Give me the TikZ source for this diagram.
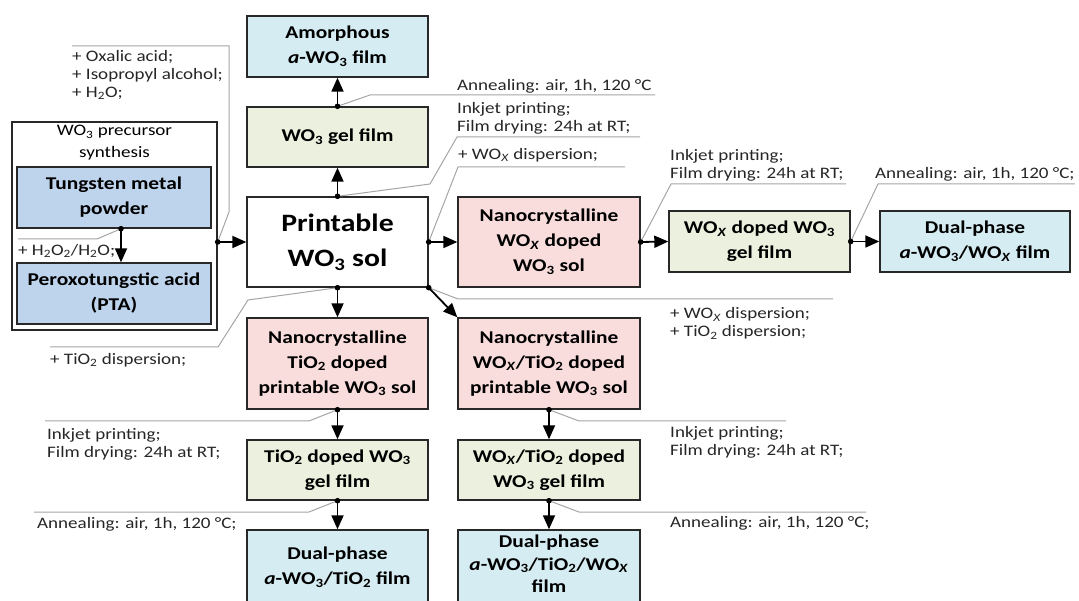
\documentclass[tikz,border=0pt]{standalone}
\usepackage{fontspec}
\setmainfont{Carlito}[FakeStretch=1.19]
\usepackage{xcolor}
\usepackage{tikz}
\usetikzlibrary{arrows.meta, positioning, calc}

\definecolor{filmblue}{RGB}{212,236,242}
\definecolor{gelgreen}{RGB}{235,241,222}
\definecolor{solpink}{RGB}{249,221,220}
\definecolor{precblue}{RGB}{190,212,237}
\definecolor{edge}{RGB}{40,40,40}
\definecolor{leadgray}{RGB}{165,165,165}

\newcommand{\wothree}{WO\textsubscript{3}}
\newcommand{\wox}{WO\textsubscript{\textit{X}}}
\newcommand{\tiotwo}{TiO\textsubscript{2}}
\newcommand{\aphase}{\textit{a}}

\begin{document}
\begin{tikzpicture}[
    x=1pt, y=-1pt,
    box/.style  = {rectangle, draw=edge, line width=1.4pt, align=center,
                   inner sep=0pt, minimum width=181pt, minimum height=60pt,
                   font=\fontsize{18}{25}\selectfont\bfseries},
    film/.style = {box, fill=filmblue},
    gel/.style  = {box, fill=gelgreen},
    sol/.style  = {box, fill=solpink, minimum height=91pt},
    prec/.style = {box, fill=precblue, minimum width=194pt, minimum height=61pt},
    note/.style = {anchor=west, align=left, inner sep=0pt, text=black!85,
                   font=\fontsize{16}{18}\selectfont},
    arr/.style  = {-{Triangle[length=14pt, width=12pt]}, line width=1.8pt},
    lead/.style = {draw=leadgray, line width=1pt},
    tap/.style  = {fill=black}
]
  \useasboundingbox (0,0) rectangle (1079,601);
  \clip (0,0) rectangle (1079,601);

  % precursor synthesis block
  \node[draw=edge, line width=1.4pt, fill=white, minimum width=205pt,
        minimum height=208pt, inner sep=0pt] (outer) at (114.5,226) {};
  \node[font=\fontsize{16}{22}\selectfont, align=center, inner sep=0pt]
        (synth) at (114.5,143) {\wothree{} precursor\\synthesis};
  \node[prec] (tung) at (114,197.5) {Tungsten metal\\powder};
  \node[prec] (pta)  at (114,293.5) {Peroxotungstic acid\\(PTA)};

  % main column
  \node[film, minimum height=61pt] (amorph) at (337.5,46.5) {Amorphous\\\aphase-\wothree{} film};
  \node[gel]  (gel)    at (337.5,137) {\wothree{} gel film};
  \node[box, fill=white, minimum height=90pt,
        font=\fontsize{25}{35}\selectfont\bfseries] (print) at (337.5,242) {Printable\\\wothree{} sol};
  \node[sol]  (tisol)  at (337.5,363.5) {Nanocrystalline\\\tiotwo{} doped\\printable \wothree{} sol};
  \node[gel]  (tigel)  at (337.5,470) {\tiotwo{} doped \wothree\\gel film};
  \node[film, minimum height=75pt] (tifilm) at (337.5,567.5) {Dual-phase\\\aphase-\wothree/\tiotwo{} film};

  % WOx branch
  \node[sol, minimum width=182pt, minimum height=90pt] (woxsol) at (549,242) {Nanocrystalline\\\wox{} doped\\\wothree{} sol};
  \node[gel, minimum height=61pt] (woxgel) at (759.5,241.5) {\wox{} doped \wothree\\gel film};
  \node[film, minimum width=190pt, minimum height=61pt] (woxfilm) at (975,241.5) {Dual-phase\\\aphase-\wothree/\wox{} film};

  % WOx/TiO2 branch
  \node[sol, minimum width=182pt] (wtsol) at (549,363.5) {Nanocrystalline\\\wox/\tiotwo{} doped\\printable \wothree{} sol};
  \node[gel, minimum width=182pt] (wtgel) at (549,470) {\wox/\tiotwo{} doped\\\wothree{} gel film};
  \node[film, minimum width=182pt, minimum height=75pt] (wtfilm) at (549,567.5) {};
  \node[font=\fontsize{18}{22.5}\selectfont\bfseries, align=center, inner sep=0pt]
        (wtfilmtxt) at (549,564) {Dual-phase\\\aphase-\wothree/\tiotwo/\wox\\film};

  % process notes
  \node[note] (oxal)    at (72,75)     {+ Oxalic acid;\\+ Isopropyl alcohol;\\+ H\textsubscript{2}O;};
  \node[note] (pero)    at (18,251)    {+ H\textsubscript{2}O\textsubscript{2}/H\textsubscript{2}O;};
  \node[note] (tidisp)  at (50,360)    {+ \tiotwo{} dispersion;};
  \node[note] (annA)    at (457,86)    {Annealing: air, 1h, 120 °C};
  \node[note] (inkA)    at (457,118.5) {Inkjet printing;\\Film drying: 24h at RT;};
  \node[note] (woxdisp) at (458,155)   {+ \wox{} dispersion;};
  \node[note] (inkB)    at (670,165.5) {Inkjet printing;\\Film drying: 24h at RT;};
  \node[note] (annB)    at (875,174)   {Annealing: air, 1h, 120 °C;};
  \node[note] (mixdisp) at (670,323.5) {+ \wox{} dispersion;\\+ \tiotwo{} dispersion;};
  \node[note] (inkC)    at (47,444)    {Inkjet printing;\\Film drying: 24h at RT;};
  \node[note] (annC)    at (37,524)    {Annealing: air, 1h, 120 °C;};
  \node[note] (inkD)    at (670,442.5) {Inkjet printing;\\Film drying: 24h at RT;};
  \node[note] (annD)    at (670,523)   {Annealing: air, 1h, 120 °C;};

  \coordinate (feed) at (outer.east |- print.west);
  \coordinate (tapT) at ([xshift=7pt]tung.south);
  \coordinate (tapP) at ([xshift=7pt]pta.north);

  % leader lines
  \draw[lead] (72,46) -- (229,46) -- (229,212) -- (feed);
  \draw[lead] (tapT) -- (97,239) -- (18,239);
  \draw[lead] (gel.north) -- (370,95) -- (655,95);
  \draw[lead] (print.north) -- (430,184) -- (457,137) -- (640,137);
  \draw[lead] (print.east) -- (458,167) -- (625,167);
  \draw[lead] (print.south) -- (248,300) -- (218,347) -- (50,347);
  \draw[lead] (print.south east) -- (458,299) -- (833,299);
  \draw[lead] (woxsol.east) -- (671,184) -- (846,184);
  \draw[lead] (woxgel.east) -- (878,184) -- (1075,184);
  \draw[lead] (tisol.south) -- (309,421) -- (45,421);
  \draw[lead] (tigel.south) -- (309,512) -- (34,512);
  \draw[lead] (wtsol.south) -- (579,421) -- (786,421);
  \draw[lead] (wtgel.south) -- (579,512) -- (866,512);

  % process arrows
  \draw[arr] (gel.north)        -- (amorph.south);
  \draw[arr] (print.north)      -- (gel.south);
  \draw[arr] (feed)             -- (print.west);
  \draw[arr] (tapT)             -- (tapP);
  \draw[arr] (print.south)      -- (tisol.north);
  \draw[arr] (print.east)       -- (woxsol.west);
  \draw[arr] (print.south east) -- (wtsol.north west);
  \draw[arr] (woxsol.east)      -- (woxgel.west);
  \draw[arr] (woxgel.east)      -- (woxfilm.west);
  \draw[arr] (tisol.south)      -- (tigel.north);
  \draw[arr] (tigel.south)      -- (tifilm.north);
  \draw[arr] (wtsol.south)      -- (wtgel.north);
  \draw[arr] (wtgel.south)      -- (wtfilm.north);

  % branch points
  \foreach \p in {gel.north, print.north, feed, tapT, print.south, print.east,
                  print.south east, woxsol.east, woxgel.east, tisol.south,
                  tigel.south, wtsol.south, wtgel.south}
    \fill[tap] (\p) circle (2.8);
\end{tikzpicture}
\end{document}
